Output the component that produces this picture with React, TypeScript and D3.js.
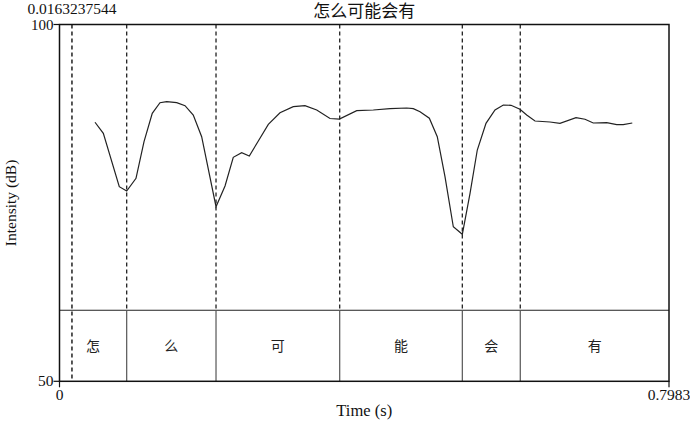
import React from "react";
import * as d3 from "d3";

const times = [0.0465,0.0574,0.0783,0.0880,0.1002,0.1107,0.1215,0.1316,0.1404,0.1535,0.1644,0.1752,0.1862,0.2050,0.2168,0.2276,0.2386,0.2486,0.2604,0.2735,0.2888,0.3062,0.3215,0.3369,0.3543,0.3665,0.3893,0.4110,0.4329,0.4548,0.4634,0.4722,0.4844,0.4948,0.5049,0.5158,0.5276,0.5377,0.5472,0.5586,0.5704,0.5813,0.5914,0.6031,0.6119,0.6228,0.6424,0.6555,0.6765,0.6883,0.6991,0.7167,0.7298,0.7384,0.7502];
const intensity = [86.30,84.75,77.27,76.67,78.45,83.58,87.56,89.04,89.18,89.04,88.62,87.32,84.28,74.47,77.37,81.39,82.03,81.57,83.67,86.01,87.64,88.48,88.62,88.02,86.83,86.74,87.92,88.02,88.20,88.30,88.20,87.78,86.86,84.28,78.67,71.66,70.60,76.35,82.41,86.15,88.02,88.72,88.68,88.12,87.32,86.48,86.34,86.15,86.94,86.72,86.20,86.24,85.96,85.96,86.20];

const boundaries = [0, 0.0880, 0.2050, 0.3670, 0.5276, 0.6035, 0.7983];
const syllables = ["怎", "么", "可", "能", "会", "有"];
const cursorTime = 0.0163237544;
const cursorLabel = "0.0163237544";
const xDomain = [0, 0.7983];
const yDomain = [50, 100];
const title = "怎么可能会有";

export default function App() {
  const W = 690, H = 424;
  const left = 59.5, right = 669, top = 24.5, bottom = 381.3;
  const tierTop = 310.3;
  const x = d3.scaleLinear().domain(xDomain).range([left, right]);
  const y = d3.scaleLinear().domain(yDomain).range([bottom, top]);
  const line = d3.line<number>().x((_, i) => x(times[i])).y((d) => y(d));
  const latin = "'Liberation Serif', 'Times New Roman', serif";
  const cjk = "'Liberation Serif', 'Noto Sans CJK SC', serif";
  const inner = boundaries.slice(1, -1);
  return (
    <svg width={W} height={H} style={{ position: "absolute", left: 0, top: 0, background: "#fff" }}>
      <rect x={0} y={0} width={W} height={H} fill="#fff" />
      {inner.map((b, i) => (
        <line key={"d" + i} x1={x(b)} x2={x(b)} y1={top} y2={tierTop} stroke="#222" strokeWidth={1.3} strokeDasharray="4,3" />
      ))}
      <line x1={x(cursorTime)} x2={x(cursorTime)} y1={top} y2={bottom} stroke="#111" strokeWidth={1.4} strokeDasharray="4,3" />
      <line x1={left} x2={right} y1={tierTop} y2={tierTop} stroke="#222" strokeWidth={1.1} />
      {inner.map((b, i) => (
        <line key={"s" + i} x1={x(b)} x2={x(b)} y1={tierTop} y2={bottom} stroke="#555" strokeWidth={1.2} />
      ))}
      {syllables.map((s, i) => (
        <text key={"t" + i} x={(x(boundaries[i]) + x(boundaries[i + 1])) / 2} y={(tierTop + bottom) / 2 + 5}
          textAnchor="middle" fontSize={14} fontFamily={cjk} fill="#222">{s}</text>
      ))}
      <path d={line(intensity) || ""} fill="none" stroke="#222" strokeWidth={1.2} />
      <rect x={left} y={top} width={right - left} height={bottom - top} fill="none" stroke="#111" strokeWidth={1.5} />
      <line x1={left - 6} x2={left} y1={y(100)} y2={y(100)} stroke="#111" strokeWidth={1.2} />
      <line x1={left - 6} x2={left} y1={y(50)} y2={y(50)} stroke="#111" strokeWidth={1.2} />
      <line x1={left} x2={left} y1={bottom} y2={bottom + 6} stroke="#111" strokeWidth={1.2} />
      <line x1={right} x2={right} y1={bottom} y2={bottom + 6} stroke="#111" strokeWidth={1.2} />
      <text x={left - 6} y={y(100) + 5.5} textAnchor="end" fontSize={15} fontFamily={latin} fill="#111">{yDomain[1]}</text>
      <text x={left - 6} y={y(50) + 5} textAnchor="end" fontSize={15.5} fontFamily={latin} fill="#111">{yDomain[0]}</text>
      <text x={x(0)} y={bottom + 19} textAnchor="middle" fontSize={15.5} fontFamily={latin} fill="#111">{xDomain[0]}</text>
      <text x={x(xDomain[1])} y={bottom + 19} textAnchor="middle" fontSize={15.5} fontFamily={latin} fill="#111">{xDomain[1]}</text>
      <text x={(left + right) / 2} y={416} textAnchor="middle" fontSize={16.5} fontFamily={latin} fill="#111">Time (s)</text>
      <text transform={`translate(16, ${(top + bottom) / 2}) rotate(-90)`} textAnchor="middle" fontSize={15.5} fontFamily={latin} fill="#111">Intensity (dB)</text>
      <text x={x(cursorTime)} y={14} textAnchor="middle" fontSize={15.5} fontFamily={latin} fill="#111">{cursorLabel}</text>
      <text x={(left + right) / 2} y={17} textAnchor="middle" fontSize={17} fontFamily={cjk} fill="#111">{title}</text>
    </svg>
  );
}
